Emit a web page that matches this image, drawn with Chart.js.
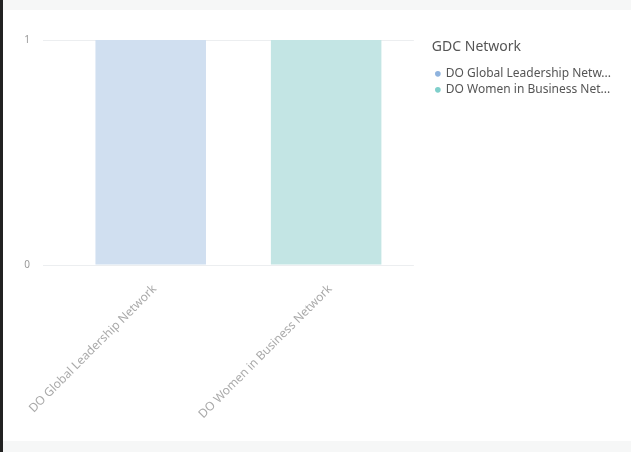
<!DOCTYPE html>
<html>
<head>
<meta charset="utf-8">
<script src="https://cdn.jsdelivr.net/npm/chart.js@4.4.1/dist/chart.umd.min.js"></script>
<style>
  html, body { margin: 0; padding: 0; background: #fff; }
  body { width: 631px; height: 452px; position: relative; overflow: hidden; }
  .edge { position: absolute; left: 0; top: 0; width: 3px; height: 452px; background: #222; }
  .band-top { position: absolute; left: 3px; top: 0; width: 628px; height: 10px; background: #f6f7f7; }
  .band-bot { position: absolute; left: 3px; top: 441px; width: 628px; height: 11px; background: #f6f7f7; }
  .wrap { position: absolute; left: 3px; top: 10px; width: 628px; height: 430px; }
</style>
</head>
<body>
<div class="edge"></div>
<div class="band-top"></div>
<div class="band-bot"></div>
<div class="wrap"><canvas id="gdcChart"></canvas></div>
<script>
// GDC Network — 네트워크별 건수 (막대 2개)
const categories = ["DO Global Leadership Network", "DO Women in Business Network"];
const legendNames = ["DO Global Leadership Netw...", "DO Women in Business Net..."];
const counts = [1, 1];
const yTicks = [0, 1];
const barColors = ["#d0dff0", "#c3e5e4"];
const dotColors = ["#8fb3de", "#7fcfcb"];

(function () {
  const FONT = "'Noto Sans', 'Open Sans', sans-serif";
  const ctx = document.getElementById("gdcChart");
  new Chart(ctx, {
    type: "bar",
    data: {
      labels: categories,
      datasets: [{
        data: counts,
        backgroundColor: barColors,
        borderWidth: 0,
        categoryPercentage: 1,
        barPercentage: 0.63,
      }],
    },
    options: {
      responsive: true,
      maintainAspectRatio: false,
      animation: false,
      layout: { padding: { top: 30, right: 10, left: 0, bottom: 0 } },
      plugins: {
        tooltip: { enabled: false },
        legend: {
          position: "right",
          align: "start",
          maxWidth: 260,
          title: {
            display: true,
            text: "GDC Network",
            position: "start",
            color: "#555",
            font: { family: FONT, size: 14 },
            padding: { top: 0, bottom: 7 },
          },
          labels: {
            color: "#888",
            font: { family: FONT, size: 12 },
            usePointStyle: true,
            pointStyle: "circle",
            boxWidth: 4,
            boxHeight: 4,
            padding: 4,
            generateLabels: () => legendNames.map((n, i) => ({
              text: n,
              fillStyle: dotColors[i],
              strokeStyle: dotColors[i],
              lineWidth: 0,
              pointStyle: "circle",
              datasetIndex: 0,
              index: i,
            })),
          },
        },
      },
      scales: {
        y: {
          min: 0, max: 1,
          afterFit: (s) => { s.width = 60; },
          afterBuildTicks: (s) => { s.ticks = yTicks.map((v) => ({ value: v })); },
          ticks: { color: "#999", font: { family: FONT, size: 10 }, padding: 13 },
          grid: { color: "#eceef0", tickLength: 20, drawTicks: true },
          border: { display: false },
        },
        // 범례와 플롯 사이 여백용 빈 축
        gap: {
          position: "right",
          afterFit: (s) => { s.width = 18; },
          ticks: { display: false },
          grid: { display: false },
          border: { display: false },
        },
        x: {
          afterFit: (s) => { s.height = 175; },
          ticks: {
            color: "#aaa",
            font: { family: FONT, size: 12 },
            minRotation: 45, maxRotation: 45,
            padding: 9,
            labelOffset: 4,
          },
          grid: { display: false },
          border: { display: false },
        },
      },
    },
  });
})();
</script>
</body>
</html>
